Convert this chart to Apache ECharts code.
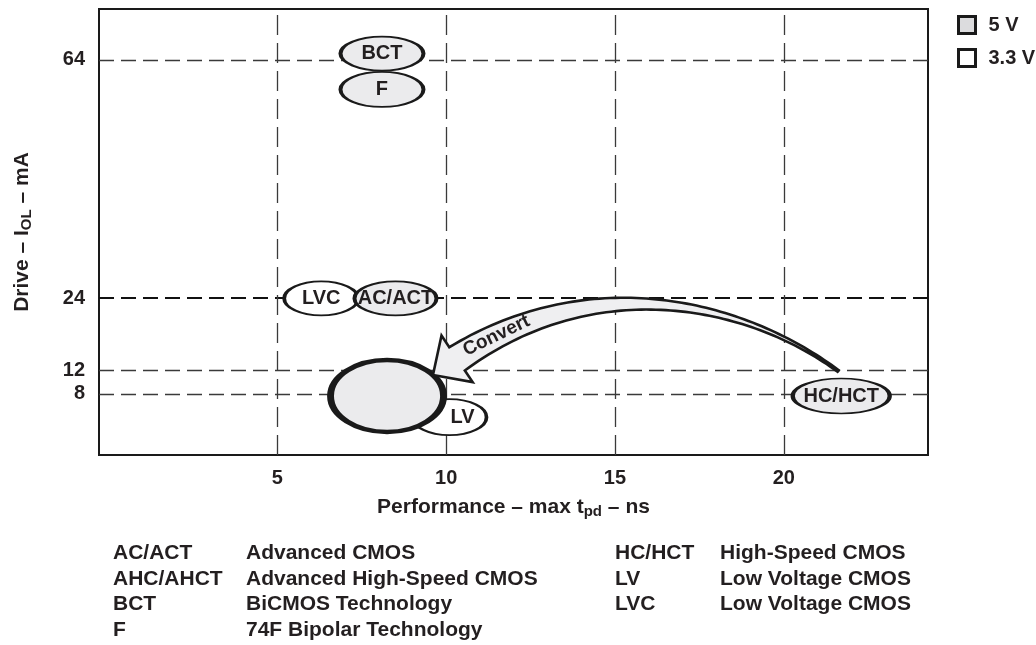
<!DOCTYPE html>
<html>
<head>
<meta charset="utf-8">
<script src="https://cdn.jsdelivr.net/npm/echarts@6/dist/echarts.min.js"></script>
<style>
html,body{margin:0;padding:0;background:#fff;}
#chart{width:1036px;height:645px;}
</style>
</head>
<body>
<div id="chart"></div>
<script>
// ---------- data ----------
const labels5V = ['F', 'BCT', 'AC/ACT', 'AHC/AHCT', 'HC/HCT'];
const tpd5V    = [8.1, 8.1, 8.5, 8.25, 21.7];
const iol5V    = [59, 65, 24, 7.65, 7.65];

const labels33V = ['LVC', 'LV'];
const tpd33V    = [6.3, 10.1];
const iol33V    = [24, 4.1];

const xTicks = [5, 10, 15, 20];
const yTicks = [8, 12, 24, 64];

const convertFrom = [21.61, 11.84];
const convertTo   = [9.61, 11.17];

const abbrLeft  = ['AC/ACT', 'AHC/AHCT', 'BCT', 'F'];
const descLeft  = ['Advanced CMOS', 'Advanced High-Speed CMOS', 'BiCMOS Technology', '74F Bipolar Technology'];
const abbrRight = ['HC/HCT', 'LV', 'LVC'];
const descRight = ['High-Speed CMOS', 'Low Voltage CMOS', 'Low Voltage CMOS'];

// ---------- style ----------
const FONT = '"Liberation Sans", Arial, Helvetica, sans-serif';
const INK = '#231f20';
const FILL5 = '#ebebed';
const X_MIN = -0.28, X_MAX = 24.27, Y_MIN = -2.23, Y_MAX = 72.47;

const ellipseStyle = {
  'BCT':      { size: [83, 34] },
  'F':        { size: [83, 35] },
  'AC/ACT':   { size: [82, 34] },
  'AHC/AHCT': { size: [113, 72], border: 5.5, noLabel: true },
  'HC/HCT':   { size: [97, 35] },
  'LVC':      { size: [74, 34] },
  'LV':       { size: [74, 36], offset: [13, 0] }
};

function buildItems(labels, xs, ys) {
  return labels.map(function (name, i) {
    const st = ellipseStyle[name] || { size: [80, 34] };
    return {
      name: name,
      value: [xs[i], ys[i]],
      symbolSize: st.size,
      itemStyle: { borderWidth: st.border || 2.6 },
      label: {
        show: !st.noLabel,
        offset: st.offset || [0, 0]
      }
    };
  });
}

const labelCommon = {
  show: true, position: 'inside', formatter: '{b}',
  fontSize: 20, fontWeight: 'bold', fontFamily: FONT, color: INK
};

function norm(v) { const l = Math.hypot(v[0], v[1]); return [v[0] / l, v[1] / l]; }
function bez(P0, P1, P2, P3, t) {
  const u = 1 - t;
  return [0, 1].map(function (k) {
    return u * u * u * P0[k] + 3 * u * u * t * P1[k] + 3 * u * t * t * P2[k] + t * t * t * P3[k];
  });
}
function bezD(P0, P1, P2, P3, t) {
  const u = 1 - t;
  return [0, 1].map(function (k) {
    return 3 * u * u * (P1[k] - P0[k]) + 6 * u * t * (P2[k] - P1[k]) + 3 * t * t * (P3[k] - P2[k]);
  });
}

function renderArrow(params, api) {
  const T = api.coord([api.value(0), api.value(1)]);
  const H = api.coord([api.value(2), api.value(3)]);
  const hd = norm([-0.83, 0.555]);
  const headLen = 29, headHalf = 28;
  const B = [H[0] - hd[0] * headLen, H[1] - hd[1] * headLen];
  const td = norm([-0.8, -0.59]);
  const P0 = T, P1 = [T[0] + td[0] * 120, T[1] + td[1] * 120];
  const P2 = [B[0] - hd[0] * 160, B[1] - hd[1] * 160], P3 = B;
  const up = [], down = [];
  const N = 80;
  for (let i = 0; i <= N; i++) {
    const t = i / N;
    const p = bez(P0, P1, P2, P3, t);
    const d = norm(bezD(P0, P1, P2, P3, t));
    const n = [-d[1], d[0]];
    const w = (2 + 26 * Math.pow(t, 1.7)) / 2;
    up.push([p[0] + n[0] * w, p[1] + n[1] * w]);
    down.push([p[0] - n[0] * w, p[1] - n[1] * w]);
  }
  const nB = [-hd[1], hd[0]];
  const barbUp = [B[0] + nB[0] * headHalf, B[1] + nB[1] * headHalf];
  const barbDown = [B[0] - nB[0] * headHalf, B[1] - nB[1] * headHalf];
  const pts = up.concat([barbUp, H, barbDown], down.reverse());
  const tt = 0.9;
  const tp = bez(P0, P1, P2, P3, tt);
  const dd = norm(bezD(P0, P1, P2, P3, tt));
  const rot = -Math.atan2(-dd[1], -dd[0]);
  return {
    type: 'group',
    children: [
      { type: 'polygon', shape: { points: pts },
        style: { fill: '#efeff1', stroke: '#1a1a1a', lineWidth: 2.6, lineJoin: 'miter' } },
      { type: 'text', x: tp[0] - 1, y: tp[1], rotation: rot,
        style: { text: 'Convert', x: 0, y: 0, fontSize: 19, fontWeight: 'bold', fontFamily: FONT,
                 fill: INK, align: 'center', verticalAlign: 'middle' } }
    ]
  };
}

function renderHLine(params, api) {
  const v = api.value(1);
  const y = api.coord([api.value(0), v])[1];
  const cs = params.coordSys;
  const strong = v === 24;
  const yy = strong ? Math.round(y) : Math.round(y) + 0.5;
  return {
    type: 'line',
    shape: { x1: cs.x, y1: yy, x2: cs.x + cs.width, y2: yy },
    style: { stroke: strong ? '#111' : '#3a3a3a', lineWidth: strong ? 2.2 : 1.3, lineDash: [15, 7] }
  };
}
function renderVLine(params, api) {
  const x = Math.round(api.coord([api.value(0), api.value(1)])[0]) + 0.5;
  const cs = params.coordSys;
  return {
    type: 'line',
    shape: { x1: x, y1: cs.y + cs.height, x2: x, y2: cs.y },
    style: { stroke: '#3a3a3a', lineWidth: 1.3, lineDash: [20, 8] }
  };
}

// table of abbreviations
const graphics = [];
const rowY0 = 555, rowDY = 25.6;
function addText(txt, x, y) {
  graphics.push({ type: 'text', left: x, top: y - 12, silent: true,
    style: { text: txt, fontSize: 21, fontWeight: 'bold', fontFamily: FONT, fill: INK } });
}
abbrLeft.forEach(function (a, i) { addText(a, 113, rowY0 + i * rowDY); addText(descLeft[i], 246, rowY0 + i * rowDY); });
abbrRight.forEach(function (a, i) { addText(a, 615, rowY0 + i * rowDY); addText(descRight[i], 720, rowY0 + i * rowDY); });

const axisLabelStyle = { fontSize: 20, fontWeight: 'bold', fontFamily: FONT, color: INK };
const nameStyle = {
  fontSize: 21, fontWeight: 'bold', fontFamily: FONT, color: INK, lineHeight: 24,
  rich: { sub: { fontSize: 15, fontWeight: 'bold', fontFamily: FONT, color: INK, lineHeight: 14, verticalAlign: 'bottom' } }
};

const option = {
  animation: false,
  backgroundColor: '#fff',
  grid: { left: 99, right: 108, top: 9, bottom: 190, show: true,
          borderColor: '#1a1a1a', borderWidth: 2, backgroundColor: 'rgba(0,0,0,0)' },
  legend: {
    orient: 'vertical', left: 952, top: 10, icon: 'rect',
    itemWidth: 17, itemHeight: 17, itemGap: 13,
    data: [
      { name: '5 V', itemStyle: { color: '#dcdcde', borderColor: '#1a1a1a', borderWidth: 3 } },
      { name: '3.3 V', itemStyle: { color: '#ffffff', borderColor: '#1a1a1a', borderWidth: 3 } }
    ],
    itemStyle: { borderColor: '#1a1a1a', borderWidth: 3 },
    textStyle: { fontSize: 20, fontWeight: 'bold', fontFamily: FONT, color: INK, padding: [0, 0, 0, 8] }
  },
  xAxis: {
    type: 'value', min: X_MIN, max: X_MAX,
    axisLine: { show: false }, axisTick: { show: false }, splitLine: { show: false },
    axisLabel: Object.assign({ customValues: xTicks, margin: 13 }, axisLabelStyle),
    name: 'Performance – max t{sub|pd} – ns', nameLocation: 'middle', nameGap: 40,
    nameTextStyle: nameStyle
  },
  yAxis: {
    type: 'value', min: Y_MIN, max: Y_MAX,
    axisLine: { show: false }, axisTick: { show: false }, splitLine: { show: false },
    axisLabel: Object.assign({ customValues: yTicks, margin: 14 }, axisLabelStyle),
    name: 'Drive – I{sub|OL} – mA', nameLocation: 'middle', nameGap: 65,
    nameTextStyle: nameStyle
  },
  graphic: graphics,
  series: [
    { type: 'custom', name: 'hgrid', silent: true, z: 1, renderItem: renderHLine,
      data: yTicks.map(function (v) { return [X_MIN, v]; }) },
    { type: 'custom', name: 'vgrid', silent: true, z: 1, renderItem: renderVLine,
      data: xTicks.map(function (v) { return [v, Y_MIN]; }) },
    { type: 'scatter', name: '3.3 V', z: 3, symbol: 'circle',
      itemStyle: { color: '#ffffff', borderColor: '#1a1a1a', borderWidth: 2.6, opacity: 1 },
      label: labelCommon, emphasis: { disabled: true },
      data: buildItems(labels33V, tpd33V, iol33V) },
    { type: 'scatter', name: '5 V', z: 4, symbol: 'circle',
      itemStyle: { color: FILL5, borderColor: '#1a1a1a', borderWidth: 2.6, opacity: 1 },
      label: labelCommon, emphasis: { disabled: true },
      data: buildItems(labels5V, tpd5V, iol5V) },
    { type: 'custom', name: 'convert', silent: true, z: 5, renderItem: renderArrow,
      encode: { x: [0, 2], y: [1, 3] },
      data: [[convertFrom[0], convertFrom[1], convertTo[0], convertTo[1]]] }
  ]
};

const chart = echarts.init(document.getElementById('chart'), null, { renderer: 'canvas' });
chart.setOption(option);
</script>
</body>
</html>
